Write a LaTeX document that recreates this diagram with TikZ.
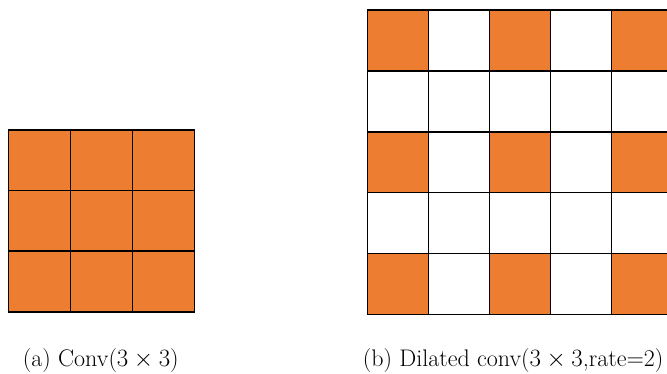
\documentclass[tikz,border=0pt]{standalone}
\definecolor{kernelorange}{HTML}{ED7D31}
\tikzset{
  cellfill/.style={fill=kernelorange},
  gridline/.style={draw=black,line width=1.5pt,line cap=rect},
  caption/.style={anchor=base west,inner sep=0pt,font=\fontsize{24}{29}\selectfont}
}
\begin{document}
\begin{tikzpicture}[x=1pt,y=-1pt]
\useasboundingbox (0,0) rectangle (667,373);
% (a) plain 3x3 kernel: every cell is sampled
\begin{scope}[shift={(8.7,130)},x=62pt,y=-60.6pt]
  \fill[cellfill] (0,0) rectangle (3,3);
  \foreach \k in {0,...,3} {
    \draw[gridline] (\k,0) -- (\k,3);
    \draw[gridline] (0,\k) -- (3,\k);
  }
\end{scope}
% (b) dilated 3x3 kernel, rate 2: only every other cell is sampled
\begin{scope}
  \clip (0,0) rectangle (667,373);
  \begin{scope}[shift={(367.3,10)},x=61.1pt,y=-60.9pt]
    \foreach \i in {0,2,4}
      \foreach \j in {0,2,4}
        \fill[cellfill] (\i,\j) rectangle (\i+1,\j+1);
    \foreach \k in {0,...,5} {
      \draw[gridline] (\k,0) -- (\k,5);
      \draw[gridline] (0,\k) -- (5,\k);
    }
  \end{scope}
\end{scope}
\node[caption] (capa) at (22.7,366) {(a)\ Conv($3\times3$)};
\node[caption] (capb) at (362.7,366) {(b)\ Dilated conv($3\times3$,rate=2)};
\end{tikzpicture}
\end{document}
